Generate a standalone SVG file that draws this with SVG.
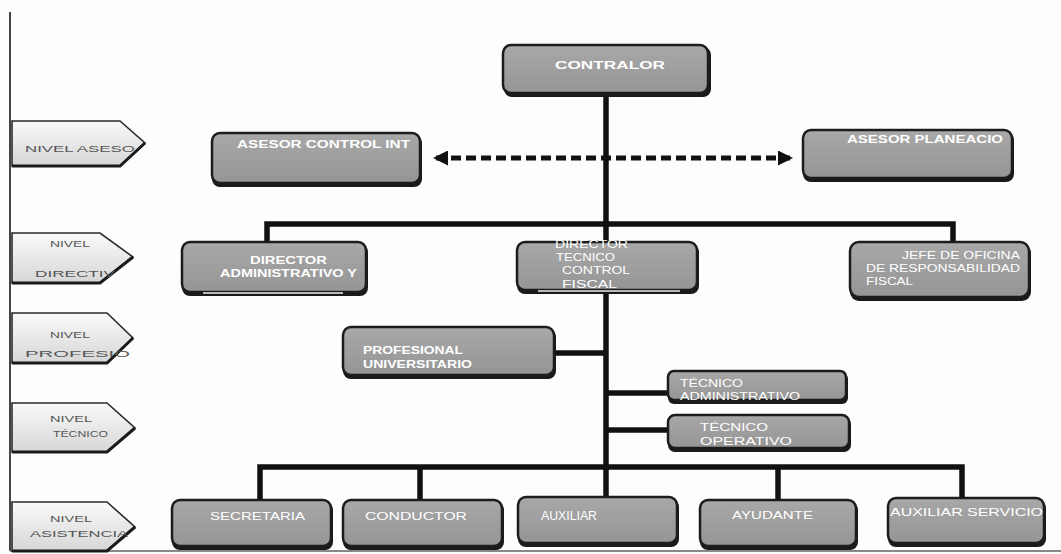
<svg xmlns="http://www.w3.org/2000/svg" width="1061" height="554" viewBox="0 0 1061 554">
<defs>
<linearGradient id="lvl" x1="0" y1="0" x2="0" y2="1">
<stop offset="0" stop-color="#fafafa"/>
<stop offset="1" stop-color="#d6d6d6"/>
</linearGradient>
<linearGradient id="box" x1="0" y1="0" x2="0" y2="1">
<stop offset="0" stop-color="#a8a8a8"/>
<stop offset="1" stop-color="#959595"/>
</linearGradient>
<marker id="ah" viewBox="0 0 10 10" refX="8" refY="5" markerWidth="3" markerHeight="3" orient="auto-start-reverse">
<path d="M0,0 L10,5 L0,10 Z" fill="#111"/>
</marker>
</defs>
<style>
.lv{fill:url(#lvl);stroke:#2a2a2a;stroke-width:1.6}
.lvs{fill:none;stroke:#1a1a1a;stroke-width:3}
.lt{fill:#555;font-family:"Liberation Sans",Arial,sans-serif;font-size:9px}
.bx{fill:url(#box);stroke:#1c1c1c;stroke-width:2.5}
.sh{fill:#1a1a1a}
.t{fill:#fff;font-family:"Liberation Sans",Arial,sans-serif;font-weight:bold;font-size:10px}
.tn{fill:#fff;font-family:"Liberation Sans",Arial,sans-serif;font-size:10px}
.ln{stroke:#111;stroke-width:5.5;fill:none}
.dash{stroke:#111;stroke-width:5;fill:none;stroke-dasharray:10 5}
</style>
<rect width="1061" height="554" fill="#fdfdfd"/>
<line x1="10" y1="12" x2="10" y2="551" stroke="#444" stroke-width="2"/>
<line x1="10" y1="551" x2="1061" y2="551" stroke="#888" stroke-width="2"/>

<g id="connectors">
<line class="ln" x1="606" y1="95" x2="606" y2="468"/>
<polyline class="ln" points="267,244 267,224 953,224 953,246"/>
<line class="ln" x1="555" y1="353" x2="606" y2="353"/>
<line class="ln" x1="606" y1="393" x2="668" y2="393"/>
<line class="ln" x1="606" y1="430" x2="672" y2="430"/>
<polyline class="ln" points="260,503 260,467 962,467 962,500"/>
<line class="ln" x1="420" y1="467" x2="420" y2="503"/>
<line class="ln" x1="606" y1="467" x2="606" y2="498"/>
<line class="ln" x1="778" y1="467" x2="778" y2="503"/>
<line class="dash" x1="436" y1="158" x2="790" y2="158" marker-start="url(#ah)" marker-end="url(#ah)"/>
</g>

<g id="nivel-asesor">
<path class="lv" d="M12,121 H120 L145,143 L120,166 H12 Z"/>
<path class="lvs" d="M12,166 H120 L145,143"/>
<text class="lt" x="25" y="152" textLength="110" lengthAdjust="spacingAndGlyphs">NIVEL ASESO</text>
</g>
<g id="nivel-directivo">
<path class="lv" d="M12,233 H100 L133,257 L100,283 H12 Z"/>
<path class="lvs" d="M12,283 H100 L133,257"/>
<text class="lt" x="50" y="247" textLength="40" lengthAdjust="spacingAndGlyphs">NIVEL</text>
<text class="lt" x="35" y="277" textLength="80" lengthAdjust="spacingAndGlyphs">DIRECTIV</text>
</g>
<g id="nivel-profesional">
<path class="lv" d="M12,313 H107 L133,338 L107,363 H12 Z"/>
<path class="lvs" d="M12,363 H107 L133,338"/>
<text class="lt" x="50" y="338" textLength="40" lengthAdjust="spacingAndGlyphs">NIVEL</text>
<text class="lt" x="25" y="357" textLength="105" lengthAdjust="spacingAndGlyphs">PROFESIO</text>
</g>
<g id="nivel-tecnico">
<path class="lv" d="M12,403 H107 L135,428 L107,452 H12 Z"/>
<path class="lvs" d="M12,452 H107 L135,428"/>
<text class="lt" x="50" y="422" textLength="42" lengthAdjust="spacingAndGlyphs">NIVEL</text>
<text class="lt" x="53" y="437" textLength="55" lengthAdjust="spacingAndGlyphs">TÉCNICO</text>
</g>
<g id="nivel-asistencia">
<path class="lv" d="M12,502 H107 L135,527 L107,551 H12 Z"/>
<path class="lvs" d="M12,551 H107 L135,527"/>
<text class="lt" x="50" y="522" textLength="42" lengthAdjust="spacingAndGlyphs">NIVEL</text>
<text class="lt" x="30" y="537" textLength="98" lengthAdjust="spacingAndGlyphs">ASISTENCIA</text>
</g>

<g id="contralor">
<rect class="sh" x="504" y="47" width="207" height="50" rx="8"/>
<rect class="bx" x="503" y="45" width="205" height="48" rx="8"/>
<text class="t" x="555" y="69" textLength="110" lengthAdjust="spacingAndGlyphs">CONTRALOR</text>
</g>
<g id="asesor-control">
<rect class="sh" x="212" y="135" width="210" height="52" rx="8"/>
<rect class="bx" x="212" y="133" width="208" height="50" rx="8"/>
<text class="t" x="237" y="148" textLength="173" lengthAdjust="spacingAndGlyphs">ASESOR CONTROL INT</text>
</g>
<g id="asesor-planeacion">
<rect class="sh" x="803" y="132" width="211" height="50" rx="8"/>
<rect class="bx" x="803" y="130" width="209" height="48" rx="8"/>
<text class="t" x="847" y="143" textLength="156" lengthAdjust="spacingAndGlyphs">ASESOR PLANEACIO</text>
</g>
<g id="director-administrativo">
<rect class="sh" x="182" y="244" width="186" height="52" rx="8"/>
<rect class="bx" x="182" y="242" width="184" height="50" rx="8"/>
<line x1="203" y1="293" x2="343" y2="293" stroke="#eee" stroke-width="1.5"/>
<text class="t" x="250" y="264" textLength="77" lengthAdjust="spacingAndGlyphs">DIRECTOR</text>
<text class="t" x="220" y="277" textLength="137" lengthAdjust="spacingAndGlyphs">ADMINISTRATIVO Y</text>
</g>
<g id="director-tecnico">
<rect class="sh" x="517" y="244" width="182" height="50" rx="8"/>
<rect class="bx" x="517" y="242" width="180" height="48" rx="8"/>
<line x1="538" y1="291" x2="680" y2="291" stroke="#eee" stroke-width="1.5"/>
<text class="tn" x="555" y="248" textLength="73" lengthAdjust="spacingAndGlyphs">DIRECTOR</text>
<text class="tn" x="556" y="261" textLength="59" lengthAdjust="spacingAndGlyphs">TECNICO</text>
<text class="tn" x="562" y="274" textLength="68" lengthAdjust="spacingAndGlyphs">CONTROL</text>
<text class="tn" x="562" y="288" textLength="55" lengthAdjust="spacingAndGlyphs">FISCAL</text>
</g>
<g id="jefe-oficina">
<rect class="sh" x="850" y="244" width="181" height="57" rx="9"/>
<rect class="bx" x="850" y="242" width="179" height="55" rx="9"/>
<text class="tn" x="902" y="259" textLength="118" lengthAdjust="spacingAndGlyphs">JEFE DE OFICINA</text>
<text class="tn" x="866" y="272" textLength="154" lengthAdjust="spacingAndGlyphs">DE RESPONSABILIDAD</text>
<text class="tn" x="866" y="285" textLength="47" lengthAdjust="spacingAndGlyphs">FISCAL</text>
</g>
<g id="profesional-universitario">
<rect class="sh" x="343" y="329" width="213" height="50" rx="8"/>
<rect class="bx" x="343" y="327" width="211" height="48" rx="8"/>
<text class="t" x="363" y="354" textLength="100" lengthAdjust="spacingAndGlyphs">PROFESIONAL</text>
<text class="t" x="363" y="368" textLength="109" lengthAdjust="spacingAndGlyphs">UNIVERSITARIO</text>
</g>
<g id="tecnico-administrativo">
<rect class="sh" x="668" y="373" width="180" height="31" rx="6"/>
<rect class="bx" x="668" y="371" width="178" height="29" rx="6"/>
<text class="tn" x="680" y="387" textLength="63" lengthAdjust="spacingAndGlyphs">TÉCNICO</text>
<text class="tn" x="680" y="400" textLength="120" lengthAdjust="spacingAndGlyphs">ADMINISTRATIVO</text>
</g>
<g id="tecnico-operativo">
<rect class="sh" x="668" y="417" width="183" height="35" rx="7"/>
<rect class="bx" x="668" y="415" width="181" height="33" rx="7"/>
<text class="tn" x="700" y="431" textLength="68" lengthAdjust="spacingAndGlyphs">TÉCNICO</text>
<text class="tn" x="700" y="445" textLength="92" lengthAdjust="spacingAndGlyphs">OPERATIVO</text>
</g>
<g id="secretaria">
<rect class="sh" x="172" y="502" width="161" height="48" rx="8"/>
<rect class="bx" x="172" y="500" width="159" height="46" rx="8"/>
<text class="tn" x="210" y="520" textLength="95" lengthAdjust="spacingAndGlyphs">SECRETARIA</text>
</g>
<g id="conductor">
<rect class="sh" x="343" y="502" width="161" height="48" rx="8"/>
<rect class="bx" x="343" y="500" width="159" height="46" rx="8"/>
<text class="tn" x="365" y="520" textLength="102" lengthAdjust="spacingAndGlyphs">CONDUCTOR</text>
</g>
<g id="auxiliar">
<rect class="sh" x="518" y="499" width="161" height="48" rx="8"/>
<rect class="bx" x="518" y="497" width="159" height="46" rx="8"/>
<text class="tn" style="font-size:12px" x="541" y="520" textLength="56" lengthAdjust="spacingAndGlyphs">AUXILIAR</text>
</g>
<g id="ayudante">
<rect class="sh" x="700" y="502" width="158" height="48" rx="8"/>
<rect class="bx" x="700" y="500" width="156" height="46" rx="8"/>
<text class="tn" x="732" y="519" textLength="81" lengthAdjust="spacingAndGlyphs">AYUDANTE</text>
</g>
<g id="auxiliar-servicios">
<rect class="sh" x="888" y="500" width="158" height="47" rx="8"/>
<rect class="bx" x="888" y="498" width="156" height="45" rx="8"/>
<text class="tn" x="890" y="516" textLength="153" lengthAdjust="spacingAndGlyphs">AUXILIAR SERVICIO</text>
</g>
</svg>
